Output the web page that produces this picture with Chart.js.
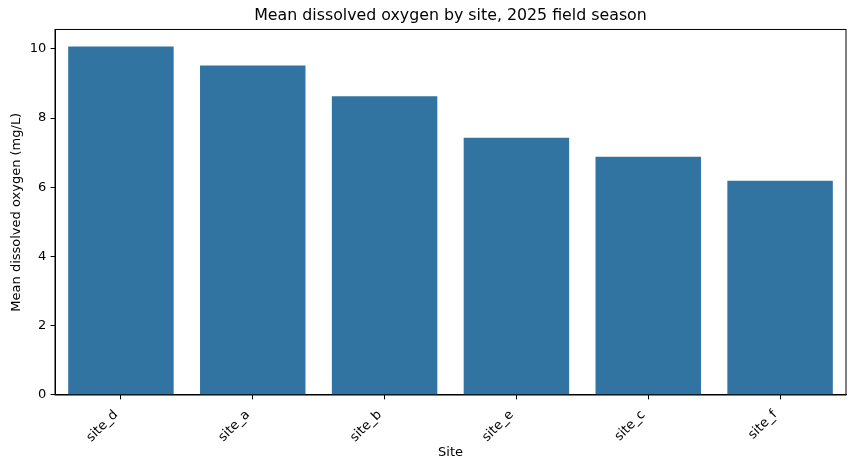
<!DOCTYPE html>
<html lang="en">
<head>
    <meta charset="UTF-8">
    <title>Mean dissolved oxygen by site</title>
    <script src="https://cdn.jsdelivr.net/npm/chart.js"></script>
    <style>
        body {
            margin: 0;
            padding: 0;
            background-color: #fff;
        }
        .chart-box {
            width: 854px;
            height: 470px;
        }
    </style>
</head>
<body>
    <div class="chart-box">
        <canvas id="doChart"></canvas>
    </div>

    <script>
        // Data
        const sites = ["site_d", "site_a", "site_b", "site_e", "site_c", "site_f"];
        const meanDO = [10.07, 9.52, 8.63, 7.43, 6.88, 6.19];
        const yTicks = [0, 2, 4, 6, 8, 10];

        // Black frame round the plot area, like matplotlib spines
        const framePlugin = {
            id: 'frame',
            afterDatasetsDraw(chart) {
                const { ctx, chartArea } = chart;
                ctx.save();
                ctx.strokeStyle = '#000';
                ctx.lineWidth = 1;
                ctx.strokeRect(chartArea.left, chartArea.top,
                    chartArea.right - chartArea.left, chartArea.bottom - chartArea.top);
                ctx.restore();
            }
        };

        Chart.defaults.font.family = '"DejaVu Sans", sans-serif';
        Chart.defaults.color = '#000';

        const ctx = document.getElementById('doChart').getContext('2d');
        const doChart = new Chart(ctx, {
            type: 'bar',
            data: {
                labels: sites,
                datasets: [{
                    label: 'Mean dissolved oxygen (mg/L)',
                    data: meanDO,
                    backgroundColor: '#3274a1',
                    borderWidth: 0,
                    categoryPercentage: 0.8,
                    barPercentage: 1.0
                }]
            },
            plugins: [framePlugin],
            options: {
                responsive: true,
                maintainAspectRatio: false,
                animation: false,
                layout: {
                    padding: { top: 0, right: 8, bottom: 0, left: 0 }
                },
                plugins: {
                    legend: { display: false },
                    tooltip: { enabled: false },
                    title: {
                        display: true,
                        fullSize: false, // centre over the plot area
                        text: 'Mean dissolved oxygen by site, 2025 field season',
                        color: '#000',
                        font: { size: 15.8, weight: 'normal' },
                        padding: { top: 6.5, bottom: 4 }
                    }
                },
                scales: {
                    x: {
                        offset: true,
                        grid: {
                            offset: false,
                            drawOnChartArea: false,
                            drawTicks: true,
                            tickLength: 4.4,
                            color: '#000'
                        },
                        border: { color: '#000', width: 1 },
                        ticks: {
                            maxRotation: 45,
                            minRotation: 45,
                            padding: 7.8,
                            labelOffset: -5,
                            font: { size: 13 }
                        },
                        title: {
                            display: true,
                            text: 'Site',
                            font: { size: 13 },
                            padding: { top: 0, bottom: 9.5 }
                        },
                        afterFit(scale) {
                            scale.height = 75;
                        }
                    },
                    y: {
                        min: 0,
                        max: 10.56,
                        grid: {
                            drawOnChartArea: false,
                            drawTicks: true,
                            tickLength: 4.4,
                            color: '#000'
                        },
                        border: { color: '#000', width: 1 },
                        ticks: {
                            padding: 4.4,
                            font: { size: 13 }
                        },
                        afterBuildTicks(scale) {
                            scale.ticks = yTicks.map(v => ({ value: v }));
                        },
                        title: {
                            display: true,
                            text: 'Mean dissolved oxygen (mg/L)',
                            font: { size: 13 },
                            padding: { top: 8.7, bottom: 0 }
                        },
                        afterFit(scale) {
                            scale.width = 55;
                        }
                    }
                }
            }
        });
    </script>
</body>
</html>
